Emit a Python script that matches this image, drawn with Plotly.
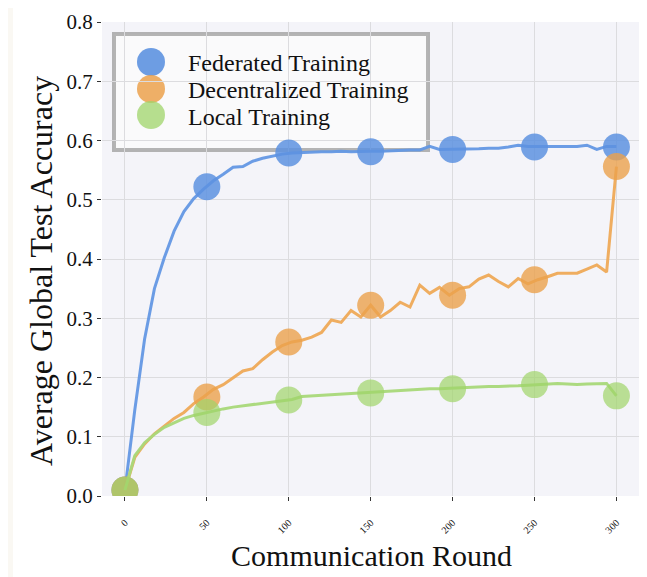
import plotly.graph_objects as go

# ===============================
# DATA
# ===============================
rounds = [0, 6, 12, 18, 24, 30, 36, 42, 48, 54, 60, 66, 72, 78, 84, 90, 96,
          102, 108, 114, 120, 126, 132, 138, 144, 150, 156, 162, 168, 174,
          180, 186, 192, 198, 204, 210, 216, 222, 228, 234, 240, 246, 252,
          258, 264, 270, 276, 282, 288, 294, 300]

federated = [0.010, 0.145, 0.265, 0.350, 0.402, 0.447, 0.480, 0.502, 0.518,
             0.532, 0.543, 0.555, 0.556, 0.565, 0.570, 0.574, 0.577, 0.579,
             0.580, 0.580, 0.581, 0.581, 0.582, 0.581, 0.582, 0.582, 0.582,
             0.583, 0.583, 0.584, 0.584, 0.590, 0.585, 0.585, 0.585, 0.586,
             0.586, 0.587, 0.587, 0.589, 0.592, 0.590, 0.590, 0.590, 0.590,
             0.589, 0.590, 0.592, 0.585, 0.590, 0.590]

decentralized = [0.010, 0.065, 0.088, 0.105, 0.118, 0.131, 0.141, 0.156,
                 0.167, 0.180, 0.188, 0.200, 0.211, 0.215, 0.230, 0.243,
                 0.254, 0.260, 0.263, 0.268, 0.276, 0.297, 0.293, 0.313,
                 0.302, 0.322, 0.302, 0.313, 0.327, 0.319, 0.356, 0.342,
                 0.352, 0.339, 0.350, 0.353, 0.366, 0.373, 0.362, 0.353,
                 0.367, 0.358, 0.365, 0.370, 0.376, 0.376, 0.376, 0.383,
                 0.390, 0.378, 0.556]

local = [0.010, 0.068, 0.090, 0.104, 0.116, 0.124, 0.131, 0.136, 0.140,
         0.144, 0.147, 0.150, 0.152, 0.155, 0.157, 0.159, 0.161, 0.163,
         0.168, 0.169, 0.170, 0.171, 0.172, 0.173, 0.174, 0.175, 0.176,
         0.177, 0.178, 0.180, 0.180, 0.181, 0.181, 0.182, 0.183, 0.184,
         0.184, 0.185, 0.185, 0.185, 0.186, 0.187, 0.188, 0.190, 0.190,
         0.189, 0.188, 0.189, 0.190, 0.190, 0.169]

mark_rounds = [0, 50, 100, 150, 200, 250, 300]
federated_marks = [0.010, 0.522, 0.579, 0.581, 0.585, 0.589, 0.589]
decentralized_marks = [0.010, 0.167, 0.260, 0.322, 0.339, 0.365, 0.556]
local_marks = [0.010, 0.141, 0.162, 0.174, 0.181, 0.188, 0.169]

names = ["Federated Training", "Decentralized Training", "Local Training"]
x_ticks = [0, 50, 100, 150, 200, 250, 300]
y_ticks = [0.0, 0.1, 0.2, 0.3, 0.4, 0.5, 0.6, 0.7, 0.8]

# ===============================
# STYLE
# ===============================
# the page body has an 8px margin, so the figure is drawn 8px in
OFF = 8
W, H = 647 - OFF, 577 - OFF
L, R, T, B = 94, 6, 14, 81
FONT = "Liberation Serif"
line_cols = ["#6498e4", "#efaa58", "#a9d97a"]
mark_cols = ["#5d92e0", "#eba14c", "#9fd46a"]
mark_alpha = [0.85, 0.8, 0.7]


def px_x(p):
    # screen pixel -> paper fraction
    return (p - OFF - L) / (W - L - R)


def px_y(p):
    return (H - B - (p - OFF)) / (H - T - B)


fig = go.Figure()
series = [(federated, federated_marks), (decentralized, decentralized_marks),
          (local, local_marks)]
for i, (ys, ms) in enumerate(series):
    fig.add_trace(go.Scatter(
        x=rounds, y=ys, mode="lines", name=names[i], showlegend=False,
        line=dict(color=line_cols[i], width=3), opacity=0.95
    ))
    fig.add_trace(go.Scatter(
        x=mark_rounds, y=ms, mode="markers", showlegend=False,
        marker=dict(color=mark_cols[i], size=27, opacity=mark_alpha[i],
                    line=dict(width=0))
    ))

shapes = [
    # white card on an off-white page
    dict(type="rect", xref="paper", yref="paper", layer="below",
         x0=px_x(13), x1=px_x(660), y0=px_y(590), y1=px_y(0),
         fillcolor="white", line=dict(width=0)),
    dict(type="rect", xref="paper", yref="paper", layer="below",
         x0=0, x1=1, y0=0, y1=1, fillcolor="#f4f4f9", line=dict(width=0)),
    # legend box: over the grid, under the data
    dict(type="rect", xref="paper", yref="paper", layer="between",
         x0=px_x(114), x1=px_x(428), y0=px_y(150), y1=px_y(34),
         fillcolor="rgba(250,250,252,0.85)",
         line=dict(color="rgba(150,150,150,0.7)", width=4)),
]
annotations = []
leg_cy = [62, 89, 115]
leg_ty = [63, 90, 117]
for i in range(3):
    cx, cy, r = 151, leg_cy[i], 14
    shapes.append(dict(type="circle", xref="paper", yref="paper",
                       layer="between",
                       x0=px_x(cx - r), x1=px_x(cx + r),
                       y0=px_y(cy + r), y1=px_y(cy - r),
                       fillcolor=mark_cols[i], opacity=mark_alpha[i] + 0.05,
                       line=dict(width=0)))
    annotations.append(dict(xref="paper", yref="paper", x=px_x(186),
                            y=px_y(leg_ty[i]), xanchor="left",
                            yanchor="middle", showarrow=False,
                            text=names[i],
                            font=dict(family=FONT, size=24, color="#111")))

# y axis title, placed as rotated text
annotations.append(dict(xref="paper", yref="paper", x=px_x(41),
                        y=px_y(271), xanchor="center", yanchor="middle",
                        showarrow=False, textangle=-90,
                        text="Average Global Test Accuracy",
                        font=dict(family=FONT, size=32, color="#111")))

fig.update_layout(
    width=W, height=H,
    margin=dict(l=L, r=R, t=T, b=B, autoexpand=False),
    paper_bgcolor="#faf8f3", plot_bgcolor="rgba(0,0,0,0)",
    font=dict(family=FONT, color="#111"),
    shapes=shapes, annotations=annotations,
    xaxis=dict(
        range=[-14, 315], tickvals=x_ticks, tickangle=-45,
        tickfont=dict(size=10), ticks="outside", ticklen=4,
        tickcolor="#333", ticklabelstandoff=12, automargin=False,
        showgrid=True, gridcolor="#dcdcdf", gridwidth=1,
        zeroline=False, showline=False,
        title=dict(text="Communication Round", font=dict(size=30),
                   standoff=10),
    ),
    yaxis=dict(
        range=[0, 0.8], tickvals=y_ticks, tickformat=".1f",
        tickfont=dict(size=21), ticks="outside", ticklen=4,
        tickcolor="#333", automargin=False,
        showgrid=True, gridcolor="#dcdcdf", gridwidth=1,
        zeroline=False, showline=False,
    ),
)

fig.write_html("out.html")
